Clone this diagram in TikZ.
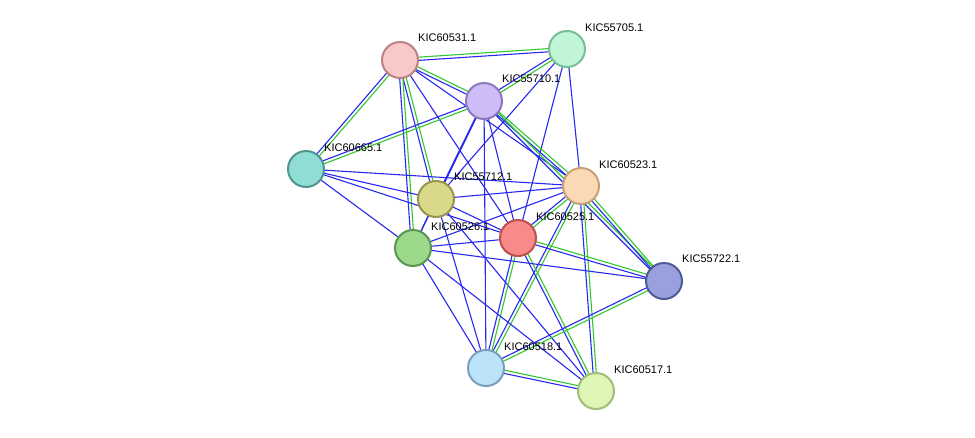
\documentclass[tikz,border=0pt]{standalone}
\usepackage{fontspec}
\setmainfont{Liberation Sans}
\usetikzlibrary{calc}
\begin{document}
\begin{tikzpicture}[x=1pt,y=-1pt,
  prot/.style={circle,draw,line width=2pt,minimum size=36pt,inner sep=0pt},
  lab/.style={anchor=west,font=\fontsize{11}{13}\selectfont,inner sep=0pt},
  be/.style={draw={rgb,255:red,40;green,40;blue,240},line width=1.1pt},
  ge/.style={draw={rgb,255:red,50;green,200;blue,50},line width=1.1pt}]
\useasboundingbox[fill=white] (0,0) rectangle (975,437);
\coordinate (a) at (400,60);   % 60531
\coordinate (b) at (567,49);   % 55705
\coordinate (c) at (484,101);  % 55710
\coordinate (d) at (306,169);  % 60665
\coordinate (e) at (436,199);  % 55712
\coordinate (f) at (581,186);  % 60523
\coordinate (g) at (518,238);  % 60525
\coordinate (h) at (413,248);  % 60526
\coordinate (i) at (664,281);  % 55722
\coordinate (j) at (486,368);  % 60518
\coordinate (k) at (596,391);  % 60517
\newcommand\bl[2]{\draw[be] (#1) -- (#2);}
\newcommand\bg[2]{\draw[ge] ($(#1)!1.6pt!90:(#2)$) -- ($(#2)!1.6pt!-90:(#1)$);
  \draw[be] ($(#1)!1.6pt!-90:(#2)$) -- ($(#2)!1.6pt!90:(#1)$);}
\bg{a}{b}\bg{a}{c}\bg{a}{d}\bg{a}{e}\bg{a}{h}\bl{a}{f}\bl{a}{g}
\bg{b}{c}\bl{b}{e}\bl{b}{f}\bl{b}{g}
\bg{c}{d}\draw[be,line width=1.8pt] (c)--(e);\bl{c}{h}\bg{c}{f}\bl{c}{g}\bg{c}{i}\bl{c}{j}
\bl{d}{e}\bl{d}{f}\bl{d}{g}\bl{d}{h}
\bl{e}{f}\bl{e}{g}\bl{e}{h}\bl{e}{j}\bl{e}{k}
\bg{f}{g}\bg{f}{i}\bg{f}{j}\bg{f}{k}\bl{f}{h}
\bg{g}{i}\bg{g}{j}\bg{g}{k}\bl{g}{h}
\bl{h}{i}\bl{h}{j}\bl{h}{k}
\bg{i}{j}\bg{j}{k}
\node[prot,fill={rgb,255:red,249;green,201;blue,201},draw={rgb,255:red,190;green,130;blue,130}] (na) at (a) {};
\node[prot,fill={rgb,255:red,192;green,245;blue,213},draw={rgb,255:red,120;green,190;blue,150}] (nb) at (b) {};
\node[prot,fill={rgb,255:red,205;green,188;blue,245},draw={rgb,255:red,140;green,120;blue,190}] (nc) at (c) {};
\node[prot,fill={rgb,255:red,143;green,221;blue,213},draw={rgb,255:red,80;green,150;blue,140}] (nd) at (d) {};
\node[prot,fill={rgb,255:red,218;green,217;blue,138},draw={rgb,255:red,150;green,150;blue,80}] (ne) at (e) {};
\node[prot,fill={rgb,255:red,252;green,217;blue,181},draw={rgb,255:red,200;green,160;blue,120}] (nf) at (f) {};
\node[prot,fill={rgb,255:red,248;green,138;blue,138},draw={rgb,255:red,190;green,80;blue,80}] (ng) at (g) {};
\node[prot,fill={rgb,255:red,155;green,217;blue,139},draw={rgb,255:red,90;green,150;blue,80}] (nh) at (h) {};
\node[prot,fill={rgb,255:red,153;green,160;blue,221},draw={rgb,255:red,80;green,90;blue,150}] (ni) at (i) {};
\node[prot,fill={rgb,255:red,189;green,227;blue,248},draw={rgb,255:red,120;green,160;blue,190}] (nj) at (j) {};
\node[prot,fill={rgb,255:red,221;green,245;blue,181},draw={rgb,255:red,160;green,190;blue,120}] (nk) at (k) {};
\node[lab] (la) at (418,38) {KIC60531.1};
\node[lab] (lb) at (585,28) {KIC55705.1};
\node[lab] (lc) at (502,79) {KIC55710.1};
\node[lab] (ld) at (324,148) {KIC60665.1};
\node[lab] (le) at (454,177) {KIC55712.1};
\node[lab] (lf) at (599,165) {KIC60523.1};
\node[lab] (lg) at (536,217) {KIC60525.1};
\node[lab] (lh) at (431,227) {KIC60526.1};
\node[lab] (li) at (682,259) {KIC55722.1};
\node[lab] (lj) at (504,347) {KIC60518.1};
\node[lab] (lk) at (614,370) {KIC60517.1};
\end{tikzpicture}
\end{document}
